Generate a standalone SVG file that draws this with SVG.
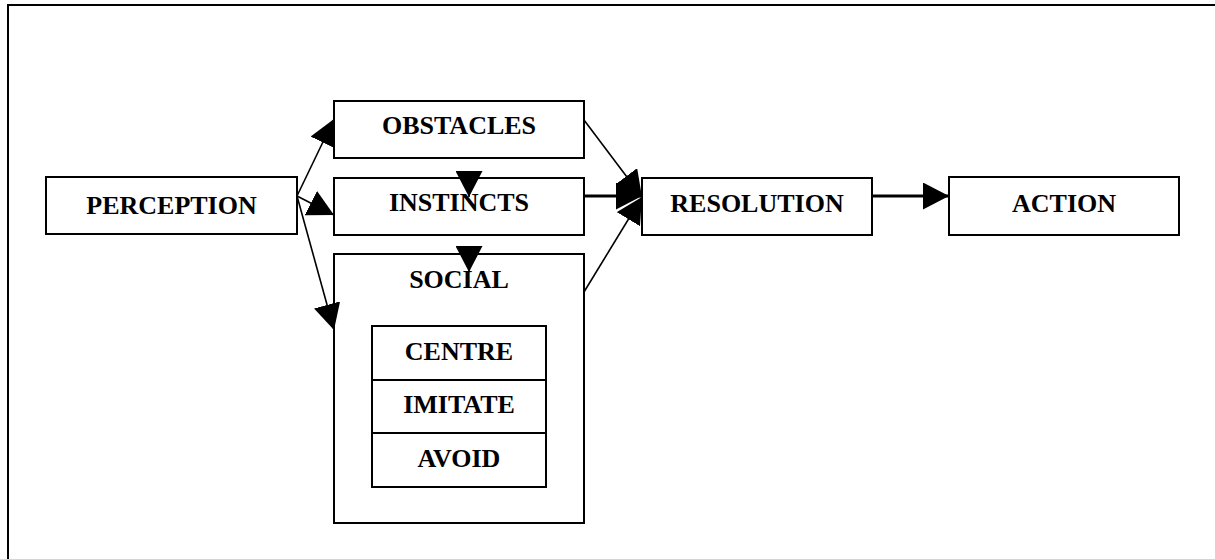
<svg xmlns="http://www.w3.org/2000/svg" width="1215" height="559" viewBox="0 0 1215 559">
  <style>
    .frame { fill: none; stroke: #000; stroke-width: 2; }
    .box { fill: #fff; stroke: #000; stroke-width: 2; }
    .label { font-family: "Liberation Serif", "Times New Roman", serif; font-weight: bold; font-size: 26px; fill: #000; text-anchor: middle; }
    .link { fill: none; stroke: #000; stroke-width: 1.6; marker-end: url(#head); }
    .link-thick { fill: none; stroke: #000; stroke-width: 3; marker-end: url(#head); }
  </style>
  <defs>
    <marker id="head" markerUnits="userSpaceOnUse" markerWidth="26" markerHeight="27" refX="26" refY="13.5" orient="auto">
      <path d="M0,0 L26,13.5 L0,27 Z" fill="#000"/>
    </marker>
  </defs>

  <rect width="1215" height="559" fill="#fff"/>
  <!-- outer frame, running off the right and bottom edges -->
  <rect class="frame" x="8" y="5" width="1230" height="580"/>

  <g id="perception">
    <rect class="box" x="46" y="177" width="251" height="57"/>
    <text class="label" x="171.5" y="214">PERCEPTION</text>
  </g>
  <g id="obstacles">
    <rect class="box" x="334" y="101" width="250" height="57"/>
    <text class="label" x="459" y="134">OBSTACLES</text>
  </g>
  <g id="instincts">
    <rect class="box" x="334" y="178" width="250" height="57"/>
    <text class="label" x="459" y="211">INSTINCTS</text>
  </g>
  <g id="social">
    <rect class="box" x="334" y="254" width="250" height="269"/>
    <text class="label" x="459" y="288">SOCIAL</text>
    <g id="centre">
      <rect class="box" x="372" y="326" width="174" height="54"/>
      <text class="label" x="459" y="360">CENTRE</text>
    </g>
    <g id="imitate">
      <rect class="box" x="372" y="380" width="174" height="53"/>
      <text class="label" x="459" y="413">IMITATE</text>
    </g>
    <g id="avoid">
      <rect class="box" x="372" y="433" width="174" height="54"/>
      <text class="label" x="459" y="467">AVOID</text>
    </g>
  </g>
  <g id="resolution">
    <rect class="box" x="642" y="178" width="230" height="57"/>
    <text class="label" x="757" y="212">RESOLUTION</text>
  </g>
  <g id="action">
    <rect class="box" x="949" y="177" width="230" height="58"/>
    <text class="label" x="1064" y="212">ACTION</text>
  </g>

  <g id="connectors">
    <path class="link" d="M297,196 L334,119"/>
    <path class="link" d="M297,196 L334,215"/>
    <path class="link" d="M297,196 L334,330"/>
    <path class="link" d="M469,171 L469,197"/>
    <path class="link" d="M469,246 L469,272"/>
    <path class="link" d="M584,120 L642,197"/>
    <path class="link" d="M584,292 L642,197"/>
    <path class="link-thick" d="M584,196 L642,196"/>
    <path class="link-thick" d="M872,196 L949,196"/>
  </g>
</svg>
